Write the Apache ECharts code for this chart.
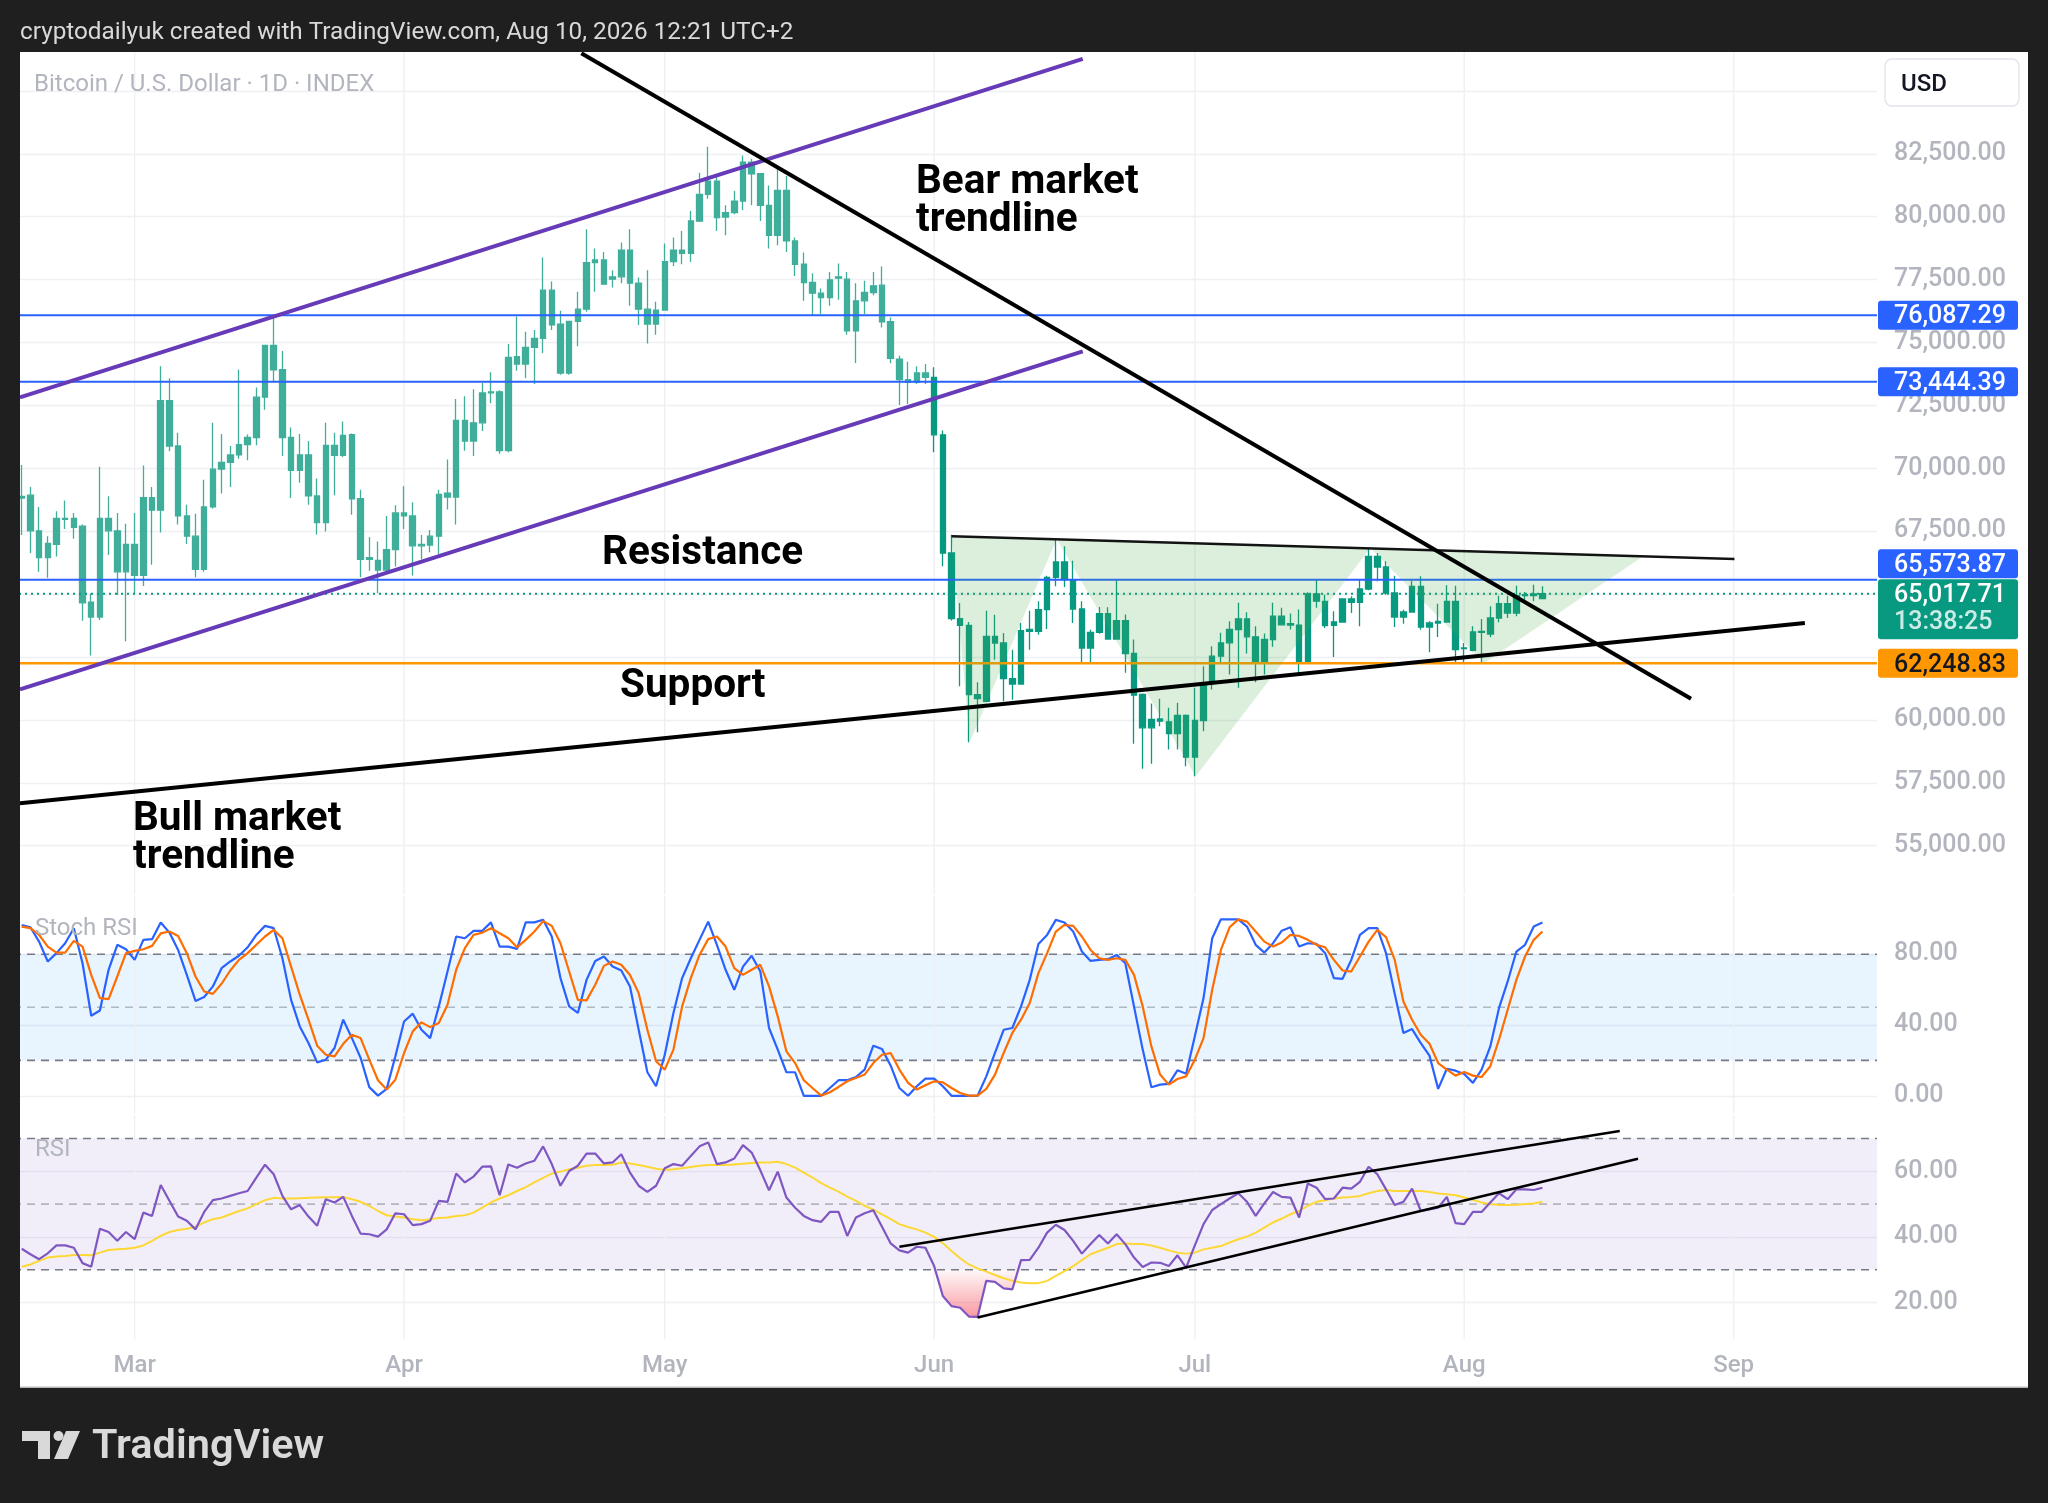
<!DOCTYPE html>
<html><head><meta charset="utf-8">
<script src="https://cdn.jsdelivr.net/npm/echarts@6/dist/echarts.min.js"></script>
<style>html,body{margin:0;padding:0;background:#1f1f1f;}#c{width:2048px;height:1503px;}</style>
</head><body><div id="c"></div>
<script>
// ---------- DATA ----------
// day index 0 = Feb 16 ; Mar 1 = 13 ; Aug 10 = 175
const monthStarts = [13, 44, 74, 105, 135, 166, 197];
const monthLabels = ['Mar', 'Apr', 'May', 'Jun', 'Jul', 'Aug', 'Sep'];

const opens = [68820,68931,67515,66452,66976,68010,68010,67699,64682,64087,
68010,67515,65886,66976,65744,68832,68336,72684,70886,68109,
67302,65985,68463,69965,70234,70531,70942,71225,72826,74880,
73917,71225,69922,70531,68903,67840,70914,70517,71339,68789,
66450,66339,65956,66764,68223,68109,66919,66948,67302,69016,
68860,71905,71084,71806,72996,73038,70708,74436,74145,74806,
75163,77080,75732,73788,75837,76326,78177,78283,77516,77609,
78666,77357,76326,75732,76287,78217,78666,78547,79830,80887,
81416,79988,80160,80623,82170,81707,80451,79261,81046,79036,
78111,77384,76961,76789,77556,77516,75467,76657,76987,77278,
75824,74343,73524,73418,73788,73616,71329,66634,64024,63759,
61003,60738,63321,63057,61639,61427,63600,63520,64382,65667,
66276,65574,64408,62858,63480,64222,63215,63944,62640,61010,
59685,60040,59924,59460,60176,58519,59977,61474,62534,63064,
63594,64018,63302,62295,63196,64124,63830,63770,62295,65011,
64713,63759,63891,64805,64673,65203,66501,66077,65044,64090,
64289,65309,63693,63851,63891,64713,62858,62766,63520,63414,
64050,64620,64249,64938,65004,64819];
const closes = [68888,67515,66452,67019,68010,67968,67656,64653,64087,68010,
67515,65886,66976,65744,68832,68336,72684,70886,68109,67302,
65985,68463,69965,70234,70531,70942,71225,72826,74880,73917,
71225,69922,70531,68903,67840,70914,70517,71310,68789,66381,
66381,65956,66764,68223,68109,66919,66976,67302,68959,68860,
71905,71084,71806,72996,73038,70708,74409,74145,74806,75163,
77080,75705,73788,75837,76326,78177,78283,77318,77609,78666,
77357,76326,75732,76287,78217,78666,78547,79830,80887,81416,
79962,80160,80623,82170,81707,80451,79261,81046,79036,78111,
77384,76961,76789,77490,77609,75467,76657,76987,77252,75824,
74370,73524,73418,73788,73616,71329,66634,64024,63759,61003,
60844,63321,63057,61639,61427,63547,63520,64382,65667,66276,
65574,64408,62858,63480,64222,63215,63944,62640,60984,59685,
60016,59950,59460,60176,58519,59977,61474,62534,63064,63594,
64018,63302,62295,63196,64124,63779,63770,62295,65011,64720,
63746,63891,64805,64673,65203,66501,66077,65044,64090,64289,
65309,63693,63851,63918,64713,62792,62831,63494,63480,64050,
64620,64249,64938,64978,64938,65017.71];
const lows = [67344,66636,65886,65645,66495,67585,67203,63945,62557,63973,
66551,64965,63124,65036,65319,66169,67444,70673,67770,66990,
65673,65886,68400,69002,69257,70376,70319,70914,72330,73463,
70489,68817,69427,68548,67373,67486,68931,70447,68152,65673,
65928,65036,65900,66098,67585,65744,66381,66665,66594,68364,
67770,70701,70489,71480,72585,70576,70642,73881,73577,73352,
74581,75493,73722,73722,74846,76221,77014,77292,77186,77357,
76458,75692,74965,75308,76260,78045,78111,78204,79790,80715,
79433,79261,80094,80266,80451,79830,78733,78864,78600,77648,
76657,76062,76128,76458,76696,75308,74185,76128,76881,75599,
74171,72519,72559,73352,73352,70642,66104,63950,61334,59108,
59505,60700,62394,60738,60804,61400,62792,63388,63613,65309,
65283,63852,62222,62250,63428,63189,63189,61871,59049,58056,
58254,59752,58824,58824,58162,57764,59553,61209,62295,61805,
61275,62640,61500,61805,62905,63750,63594,61805,62250,64455,
63653,62500,63870,64249,63719,65150,65508,64978,63693,63825,
64263,63587,62685,63295,63870,62301,62288,62725,62262,63282,
63878,64050,64117,64779,64713,64800];
const highs = [70135,69257,68463,67302,68294,68718,68223,67770,65036,70064,
68888,68223,67798,68223,70107,69257,74058,73577,71410,68548,
68194,69540,71806,71367,70886,73917,71339,73208,74908,76013,
74667,71622,71367,71084,69597,71806,71410,71863,71381,69143,
67260,67090,68109,68534,69285,68648,67345,67543,69143,70347,
72755,72868,73137,73393,73818,73100,74938,76036,75428,75493,
78375,77423,76260,75863,77014,79499,78733,78600,77873,78970,
79499,77582,77873,76617,78931,79169,79433,80226,81746,82778,
81614,80451,81019,82434,82302,81733,81244,81945,81614,79169,
78574,77754,77146,77807,78137,77807,77357,77450,77807,78018,
75996,74476,74238,74053,74145,74013,71500,67363,64646,63891,
61493,64342,64183,63454,62792,63851,64342,64713,65733,67204,
66899,66329,64713,63587,64488,64475,65547,64190,63196,61050,
60652,60838,60480,60679,60215,61275,62136,62931,63461,63925,
64654,64283,63726,63435,64654,64455,64230,64389,65078,65581,
64978,64316,64830,64911,65574,66833,66634,66303,65733,64382,
65534,65706,63918,64620,65349,65336,63057,63719,64010,64514,
64938,64938,65336,65084,65375,65309];

const stochK = [96.5,95.2,87.1,75.9,80.6,86.2,94.7,74.9,45.2,48.2,
71.2,85.3,82.8,76.8,88.1,88.5,97.9,92.2,82.4,68.3,
53.6,55.8,61.8,72.1,75.9,79.1,83.9,90.9,96.0,94.7,
77.7,54.2,39.2,29.8,18.9,20.4,27.0,43.0,32.6,21.4,
4.9,0.1,3.9,22.3,42.0,46.4,37.3,32.6,50.5,70.2,
90.0,89.0,93.2,93.2,98.0,84.3,84.3,83.0,98.0,98.0,
99.5,90.0,66.5,50.5,46.8,65.5,76.2,78.7,73.1,70.8,
61.8,37.3,13.3,5.4,23.2,46.8,66.5,77.7,88.1,98.4,
85.3,71.2,59.9,73.0,79.1,70.2,38.3,26.1,13.3,13.3,
0,0,0,4.4,8.8,8.8,10.6,14.8,28.3,26.4,
17.0,4.4,0,5.4,9.7,9.7,5.4,0,0,0,
0,11.0,24.2,37.3,38.3,50.5,65.5,85.8,90.9,99.4,
97.9,92.8,81.5,76.2,76.8,77.2,79.6,74.9,50.5,26.1,
4.8,6.3,6.7,14.4,12.5,33.6,55.2,89.0,99.7,99.7,
99.7,95.6,85.3,80.9,86.2,93.3,95.2,84.3,86.2,85.8,
80.6,66.5,66.1,76.8,90.9,94.7,94.7,80.6,57.6,35.5,
37.7,29.8,22.7,3.9,15.3,14.2,12.3,7.3,14.8,27.9,
49.5,64.6,81.5,85.3,95.6,97.9];
const stochD = [95.6,94.7,90.9,84.3,80.9,80.9,87.5,84.3,68.3,55.2,
54.6,67.4,80.6,81.9,82.8,84.7,91.8,92.8,90.3,80.6,
67.4,58.9,57.6,63.3,70.8,76.8,80.6,85.3,90.0,93.7,
89.0,73.0,57.1,43.0,28.3,23.2,22.3,29.4,34.5,32.6,
20.4,8.8,3.5,9.1,24.2,36.4,41.5,38.8,41.1,51.4,
71.2,83.4,90.9,92.2,94.7,91.8,89.0,83.9,88.1,92.8,
98.7,96.0,86.2,70.2,54.2,53.9,62.7,73.4,75.9,74.0,
68.3,58.0,37.3,19.5,14.8,26.1,50.5,66.5,79.6,88.5,
90.0,84.3,72.1,68.3,71.2,74.0,61.8,44.9,25.1,18.5,
8.8,4.4,0.1,2.0,5.0,8.2,10.1,12.0,18.5,23.2,
24.2,14.8,7.3,3.5,5.9,8.2,7.6,4.4,1.6,0.1,
0.1,3.9,12.0,24.2,35.5,43.0,52.4,69.3,80.6,92.8,
96.5,96.0,90.0,82.4,77.7,76.8,77.7,76.8,68.3,50.5,
27.9,12.0,6.3,9.5,11.0,20.4,32.6,59.9,82.4,95.2,
99.7,98.4,92.8,87.1,84.3,86.6,90.9,90.3,88.1,85.3,
83.9,76.8,70.8,70.2,78.7,87.1,93.7,89.6,76.8,53.3,
43.0,34.5,29.4,18.5,14.8,11.4,13.5,11.4,10.6,16.7,
31.7,48.6,65.5,78.7,88.1,92.8];
const rsi = [36.4,34.7,33.2,35.0,37.4,37.4,36.7,32.0,30.9,42.5,
41.5,38.8,41.5,39.3,47.4,46.4,55.8,51.0,46.2,44.9,
42.3,47.6,51.2,51.7,52.5,53.3,54.0,58.1,62.0,59.1,
52.5,48.4,49.7,46.2,43.4,51.5,50.5,52.2,46.4,41.0,
40.8,40.1,42.3,47.2,46.9,43.6,43.9,44.9,51.0,50.7,
59.3,56.6,58.4,61.4,61.5,52.7,62.1,61.1,62.4,63.2,
67.6,62.2,55.6,60.1,61.7,65.4,65.4,62.4,62.7,65.2,
59.6,55.6,53.7,55.6,60.9,62.2,61.7,64.7,67.6,68.8,
62.2,62.7,63.9,68.0,65.7,60.3,54.2,59.9,52.0,48.9,
46.4,45.1,44.6,47.6,47.6,40.3,45.9,47.2,48.1,43.1,
38.0,35.9,35.2,37.0,36.7,31.1,22.0,18.9,18.4,15.7,
15.6,26.6,26.3,24.3,24.0,32.9,33.0,36.7,41.3,43.7,
42.1,38.8,34.9,37.8,40.6,38.0,40.8,37.8,33.7,30.8,
32.2,32.1,31.1,34.4,30.6,37.4,43.9,48.2,50.0,51.7,
53.3,50.7,46.4,50.2,53.7,52.2,52.0,45.9,56.3,55.0,
51.5,51.7,55.0,54.7,56.8,61.4,59.1,54.5,49.7,50.7,
54.7,47.9,48.4,48.9,52.2,44.2,43.9,47.6,47.6,50.5,
53.3,51.5,54.5,54.5,54.3,55.0];
const rsiMA = [30.9,31.6,32.7,33.7,34.0,34.2,34.5,34.5,34.4,35.2,
36.0,36.2,36.4,36.7,37.4,38.8,40.3,41.5,42.1,42.5,
43.1,44.4,45.4,45.9,46.9,47.9,48.7,50.0,51.2,51.9,
51.7,51.7,51.8,51.9,52.0,52.1,52.1,52.2,51.5,50.7,
49.5,47.9,46.6,46.2,45.9,45.4,45.1,45.4,45.8,45.9,
46.4,46.6,47.4,48.9,50.5,51.7,52.7,54.0,55.2,56.6,
58.0,59.3,59.9,60.6,61.1,61.7,61.9,61.9,62.0,62.7,
62.4,61.9,61.4,60.8,60.4,60.6,60.9,61.3,61.7,61.9,
61.9,61.9,62.1,62.3,62.5,62.7,62.7,62.9,62.2,61.1,
59.6,58.1,56.4,55.0,53.8,52.3,51.0,49.5,48.3,46.9,
45.4,43.9,43.0,42.3,41.3,40.0,38.1,35.7,33.5,31.6,
30.4,29.4,28.4,27.4,26.6,26.1,25.9,25.9,26.6,28.1,
29.6,31.1,32.9,34.7,35.7,36.7,37.8,38.0,37.8,37.8,
37.4,36.7,35.9,35.2,34.9,35.2,36.2,36.7,37.2,38.3,
39.3,40.1,41.3,42.8,44.4,45.6,46.9,47.9,49.5,50.7,
51.2,51.7,52.0,52.2,52.5,53.3,54.0,54.3,54.0,54.0,
54.0,54.0,53.7,53.2,53.0,52.7,52.0,51.3,50.5,50.0,
49.7,49.7,49.8,50.0,50.2,50.7];

// price levels
const blueLevels = [76087.29, 73444.39, 65573.87];
const orangeLevel = 62248.83;
const lastPrice = 65017.71;
const countdown = '13:38:25';

// drawings in (day index, price) / (day index, RSI)
const bearLine = [[64.4, 86494], [192.1, 60839]];
const bullLine = [[-0.2, 56685], [205.2, 63851]];
const channelUpper = [[-0.2, 72822], [122.1, 86276]];
const channelLower = [[-0.2, 61216], [122.1, 74650]];
const neckline = [[107, 67300], [197.1, 66395]];
const hsPoints = [[107, 67300], [109.1, 59108], [119.1, 67190], [135.1, 57757], [155.2, 66833], [168.3, 62261], [186.6, 66500]];
const rsiUpper = [[101, 37.0], [183.9, 72.3]];
const rsiLower = [[110, 15.4], [186, 63.8]];
const oversoldRange = [104, 116];

// ---------- CHART ----------
const FONT = 'Roboto, "Noto Sans", sans-serif';
const GRID = '#eef0f3';
const X_MIN = -1, X_MAX = 213.5;
const DY = 1.3;      // vertical nudge of the panes
const TDY = 3;       // vertical nudge of free texts
const AX_FS = 25;    // price-scale font size
const chart = echarts.init(document.getElementById('c'), null, {width: 2048, height: 1503});

const oldStyle = {color: '#3fae9b', color0: '#f6616e', borderColor: '#3fae9b', borderColor0: '#f6616e'};
const newStyle = {color: '#089981', color0: '#f23645', borderColor: '#089981', borderColor0: '#f23645'};
const candleData = opens.map((o, i) => ({value: [i, o, closes[i], lows[i], highs[i]], itemStyle: i >= 105 ? newStyle : oldStyle}));

function hline(v, gi, style, z, extra) {
  return Object.assign({type: 'line', xAxisIndex: gi, yAxisIndex: gi, data: [[X_MIN, v], [X_MAX, v]], symbol: 'none', silent: true, lineStyle: style, z: z}, extra || {});
}
function seg(pts, gi, color, width, z) {
  return {type: 'line', xAxisIndex: gi, yAxisIndex: gi, data: pts, symbol: 'none', silent: true, lineStyle: {color: color, width: width}, z: z};
}
function vgrid(gi, yLow, yHigh) {
  return {type: 'custom', xAxisIndex: gi, yAxisIndex: gi, silent: true, z: 1,
    data: monthStarts.map(m => [m, yLow]), encode: {x: 0, y: 1},
    renderItem: (p, api) => {
      const a = api.coord([api.value(0), yLow]), b = api.coord([api.value(0), yHigh]);
      return {type: 'line', shape: {x1: a[0], y1: a[1], x2: b[0], y2: b[1]}, style: {stroke: GRID, lineWidth: 1.4}};
    }};
}
const fmt2 = v => v.toLocaleString('en-US', {minimumFractionDigits: 2, maximumFractionDigits: 2});
const axisLbl = {color: '#b2b5be', fontSize: AX_FS, fontWeight: 500, fontFamily: FONT, margin: 17, align: 'left', padding: [5, 0, 0, 0]};
const tagLevels = [orangeLevel, lastPrice];
const priceLabel = v => (v >= 55000 && v <= 82500 && !tagLevels.some(t => Math.abs(t - v) < 600)) ? fmt2(v) : '';

const xBase = {type: 'value', min: X_MIN, max: X_MAX, axisLine: {show: false}, axisTick: {show: false}, splitLine: {show: false}, axisLabel: {show: false}};

const option = {
  animation: false,
  backgroundColor: '#ffffff',
  grid: [
    {left: 13.01, right: 171, top: 26.7 + DY, height: 880.6},
    {left: 13.01, right: 171, top: 882.1 + DY, height: 212.4},
    {left: 13.01, right: 171, top: 1104.4 + DY, height: 262.4}
  ],
  xAxis: [
    Object.assign({}, xBase, {gridIndex: 0}),
    Object.assign({}, xBase, {gridIndex: 1}),
    Object.assign({}, xBase, {gridIndex: 2, interval: 1,
      axisLabel: {show: true, color: '#b2b5be', fontSize: 24, fontWeight: 500, fontFamily: FONT, margin: -14,
        formatter: v => { const k = monthStarts.indexOf(v); return k >= 0 ? monthLabels[k] : ''; }}})
  ],
  yAxis: [
    {type: 'value', gridIndex: 0, position: 'right', min: 52500, max: 87500, interval: 2500,
      axisLine: {show: false}, axisTick: {show: false},
      splitLine: {show: true, showMinLine: false, showMaxLine: false, lineStyle: {color: GRID, width: 1.4}},
      axisLabel: Object.assign({}, axisLbl, {formatter: priceLabel})},
    {type: 'value', gridIndex: 1, position: 'right', min: 0, max: 120, interval: 40,
      axisLine: {show: false}, axisTick: {show: false},
      splitLine: {show: true, showMaxLine: false, lineStyle: {color: GRID, width: 1.4}},
      axisLabel: Object.assign({}, axisLbl, {formatter: v => v <= 80 ? fmt2(v) : ''})},
    {type: 'value', gridIndex: 2, position: 'right', min: 0, max: 80, interval: 20,
      axisLine: {show: false}, axisTick: {show: false},
      splitLine: {show: true, showMinLine: false, showMaxLine: false, lineStyle: {color: GRID, width: 1.4}},
      axisLabel: Object.assign({}, axisLbl, {formatter: v => (v >= 20 && v <= 60) ? fmt2(v) : ''})}
  ],
  series: [
    vgrid(0, 53068, 86600),
    vgrid(1, -10, 113),
    vgrid(2, 8.8, 77),
    {type: 'candlestick', xAxisIndex: 0, yAxisIndex: 0, data: candleData, encode: {x: 0, y: [1, 2, 3, 4]},
      barWidth: 6, itemStyle: {borderWidth: 1.3}, z: 2, silent: true},
    // horizontal levels
    ...blueLevels.map(v => hline(v, 0, {color: '#2962ff', width: 2}, 3)),
    hline(orangeLevel, 0, {color: '#ff9800', width: 2.6}, 3),
    hline(lastPrice, 0, {color: '#089981', width: 2, type: [2, 4]}, 3),
    // head & shoulders triangles
    {type: 'custom', xAxisIndex: 0, yAxisIndex: 0, silent: true, z: 4,
      data: [0, 1, 2].map(k => hsPoints[2 * k]), encode: {x: 0, y: 1},
      renderItem: (p, api) => {
        const k = p.dataIndex;
        const pts = [hsPoints[2 * k], hsPoints[2 * k + 1], hsPoints[2 * k + 2]].map(q => api.coord(q));
        return {type: 'polygon', shape: {points: pts}, style: {fill: 'rgba(76,175,80,0.2)'}};
      }},
    // trendlines
    seg(channelUpper, 0, '#673ab7', 4, 5),
    seg(channelLower, 0, '#673ab7', 4, 5),
    seg(neckline, 0, '#131313', 2.4, 5),
    seg(bearLine, 0, '#000000', 4, 6),
    seg(bullLine, 0, '#000000', 4, 6),
    // Stoch RSI pane
    hline(80, 1, {color: '#787b86', width: 1.6, type: [8, 6]}, 2,
      {markArea: {silent: true, itemStyle: {color: 'rgba(33,150,243,0.1)'}, data: [[{yAxis: 20}, {yAxis: 80}]]}}),
    hline(50, 1, {color: 'rgba(120,123,134,0.5)', width: 1.6, type: [8, 6]}, 2),
    hline(20, 1, {color: '#787b86', width: 1.6, type: [8, 6]}, 2),
    {type: 'line', xAxisIndex: 1, yAxisIndex: 1, data: stochK.map((v, i) => [i, v]), symbol: 'none', silent: true,
      lineStyle: {color: '#2962ff', width: 2.2}, z: 4},
    {type: 'line', xAxisIndex: 1, yAxisIndex: 1, data: stochD.map((v, i) => [i, v]), symbol: 'none', silent: true,
      lineStyle: {color: '#ff6d00', width: 2.2}, z: 4},
    // RSI pane
    hline(70, 2, {color: '#787b86', width: 1.6, type: [8, 6]}, 2,
      {markArea: {silent: true, itemStyle: {color: 'rgba(126,87,194,0.1)'}, data: [[{yAxis: 30}, {yAxis: 70}]]}}),
    hline(50, 2, {color: 'rgba(120,123,134,0.5)', width: 1.6, type: [8, 6]}, 2),
    hline(30, 2, {color: '#787b86', width: 1.6, type: [8, 6]}, 2),
    {type: 'custom', xAxisIndex: 2, yAxisIndex: 2, silent: true, z: 3,
      data: [[oversoldRange[0], 30]], encode: {x: 0, y: 1},
      renderItem: (p, api) => {
        const pts = [];
        for (let i = oversoldRange[0]; i <= oversoldRange[1]; i++) pts.push(api.coord([i, Math.min(rsi[i], 30)]));
        pts.push(api.coord([oversoldRange[1], 30]));
        pts.push(api.coord([oversoldRange[0], 30]));
        return {type: 'polygon', shape: {points: pts},
          style: {fill: new echarts.graphic.LinearGradient(0, 0, 0, 1, [
            {offset: 0, color: 'rgba(242,54,69,0.03)'}, {offset: 1, color: 'rgba(242,54,69,0.5)'}])}};
      }},
    {type: 'line', xAxisIndex: 2, yAxisIndex: 2, data: rsiMA.map((v, i) => [i, v]), symbol: 'none', silent: true,
      lineStyle: {color: '#fdd835', width: 2}, z: 4},
    {type: 'line', xAxisIndex: 2, yAxisIndex: 2, data: rsi.map((v, i) => [i, v]), symbol: 'none', silent: true,
      lineStyle: {color: '#7e57c2', width: 2.2}, z: 5},
    seg(rsiUpper, 2, '#000000', 2.6, 6),
    seg(rsiLower, 2, '#000000', 2.6, 6)
  ]
};
chart.setOption(option);

// ---------- overlays, tags and texts ----------
const py = v => chart.convertToPixel({yAxisIndex: 0}, v);
const TAG_X = 1878, TAG_W = 140, TAG_H = 29;
const els = [];
const dark = '#1f1f1f';
els.push({type: 'rect', shape: {x: 0, y: 0, width: 2048, height: 52}, style: {fill: dark}, z: 100, silent: true});
els.push({type: 'rect', shape: {x: 0, y: 0, width: 20, height: 1503}, style: {fill: dark}, z: 100, silent: true});
els.push({type: 'rect', shape: {x: 2028, y: 0, width: 20, height: 1503}, style: {fill: dark}, z: 100, silent: true});
els.push({type: 'rect', shape: {x: 0, y: 1388, width: 2048, height: 115}, style: {fill: dark}, z: 100, silent: true});
els.push({type: 'line', shape: {x1: 20, y1: 1387.3, x2: 2028, y2: 1387.3}, style: {stroke: '#b8b8b8', lineWidth: 1.4}, z: 101, silent: true});

function txt(text, x, y, size, color, weight, extra) {
  return {type: 'text', z: 110, silent: true, style: Object.assign({text: text, x: x, y: y + TDY, fill: color,
    fontSize: size, fontWeight: weight || 'normal', fontFamily: FONT, verticalAlign: 'middle', align: 'left'}, extra || {})};
}
els.push(txt('cryptodailyuk created with TradingView.com, Aug 10, 2026 12:21 UTC+2', 20, 30, 24.3, '#d9d9d9'));
els.push(txt('Bitcoin / U.S. Dollar · 1D · INDEX', 34, 82, 24, '#b2b5be'));
els.push(txt('Stoch RSI', 35, 926, 24, '#b2b5be'));
els.push(txt('RSI', 35, 1147, 24, '#b2b5be'));

// annotations
const annFont = {lineHeight: 38, verticalAlign: 'top'};
els.push(txt('Bear market\ntrendline', 916, 161, 40.5, '#000000', 'bold', annFont));
els.push(txt('Resistance', 602, 551, 40.5, '#000000', 'bold'));
els.push(txt('Support', 620, 684, 40.5, '#000000', 'bold'));
els.push(txt('Bull market\ntrendline', 133, 798, 40.5, '#000000', 'bold', annFont));

// USD box
els.push({type: 'rect', shape: {x: 1885, y: 59, width: 134, height: 47, r: 7}, style: {fill: '#ffffff', stroke: '#e0e3eb', lineWidth: 1.3}, z: 105, silent: true});
els.push(txt('USD', 1901, 81.5, 24, '#131722', 500));

// price tags
function tag(cy, h, fill, lines, textColor) {
  els.push({type: 'rect', shape: {x: TAG_X, y: cy - TAG_H / 2, width: TAG_W, height: h, r: 3}, style: {fill: fill}, z: 105, silent: true});
  lines.forEach((l, k) => els.push(txt(l.t, 1894, cy + k * 27 - 1, AX_FS, l.c || textColor, 500)));
}
const yLast = py(lastPrice);
tag(py(blueLevels[0]), TAG_H, '#2962ff', [{t: fmt2(blueLevels[0])}], '#ffffff');
tag(py(blueLevels[1]), TAG_H, '#2962ff', [{t: fmt2(blueLevels[1])}], '#ffffff');
tag(Math.min(py(blueLevels[2]), yLast - TAG_H - 1), TAG_H, '#2962ff', [{t: fmt2(blueLevels[2])}], '#ffffff');
tag(yLast, 60, '#089981', [{t: fmt2(lastPrice)}, {t: countdown, c: 'rgba(255,255,255,0.8)'}], '#ffffff');
tag(py(orangeLevel), TAG_H, '#ff9800', [{t: fmt2(orangeLevel)}], '#131722');

// TradingView logo
const logoC = '#d9d9d9';
els.push({type: 'rect', shape: {x: 22, y: 1431, width: 28, height: 10}, style: {fill: logoC}, z: 110, silent: true});
els.push({type: 'rect', shape: {x: 38, y: 1431, width: 12, height: 28}, style: {fill: logoC}, z: 110, silent: true});
els.push({type: 'circle', shape: {cx: 58.5, cy: 1436, r: 5}, style: {fill: logoC}, z: 110, silent: true});
els.push({type: 'polygon', shape: {points: [[66, 1431], [80, 1431], [68, 1459], [54, 1459]]}, style: {fill: logoC}, z: 110, silent: true});
els.push(txt('TradingView', 92, 1445, 41.5, logoC, 600));

chart.setOption({graphic: {elements: els}});
</script>
</body></html>
